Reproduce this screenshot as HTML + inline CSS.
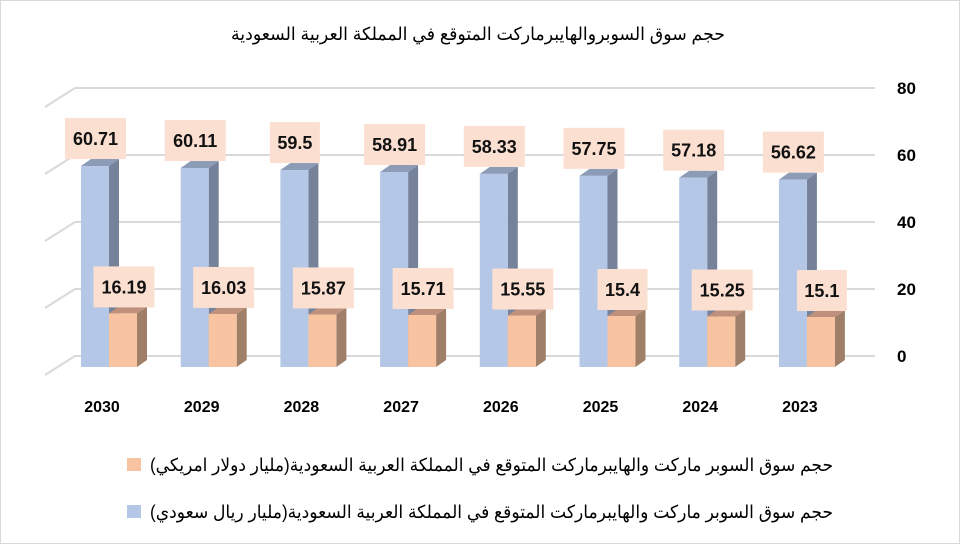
<!DOCTYPE html>
<html><head><meta charset="utf-8">
<style>
html,body{margin:0;padding:0;background:#fff;}
svg{display:block;}
text{font-family:"Liberation Sans","DejaVu Sans",sans-serif;}
</style></head>
<body>
<svg id="c" width="966" height="545" viewBox="0 0 966 545" xmlns="http://www.w3.org/2000/svg">
<rect x="0.5" y="0.5" width="959" height="543" fill="#fff" stroke="#d9d9d9"/>
<text x="478" y="40" font-size="18" text-anchor="middle" direction="rtl" font-family="DejaVu Sans, sans-serif" textLength="494" lengthAdjust="spacingAndGlyphs">حجم سوق السوبروالهايبرماركت  المتوقع في المملكة العربية السعودية</text>
<g id="grid" stroke="#d9d9d9" stroke-width="2" fill="none"></g>
<g id="bars"></g>
<g font-size="17" font-weight="bold" fill="#000">
<text x="897" y="94">80</text>
<text x="897" y="161">60</text>
<text x="897" y="228">40</text>
<text x="897" y="295">20</text>
<text x="897" y="362">0</text>
</g>
<rect x="127" y="458" width="14" height="13" fill="#f8c3a1"/>
<rect x="127" y="505" width="14" height="13" fill="#b4c7e7"/>
<text x="833" y="471" font-size="18" text-anchor="start" direction="rtl" font-family="DejaVu Sans, sans-serif" textLength="683" lengthAdjust="spacingAndGlyphs">حجم سوق السوبر ماركت والهايبرماركت المتوقع في المملكة العربية السعودية(مليار دولار امريكي)</text>
<text x="833" y="518" font-size="18" text-anchor="start" direction="rtl" font-family="DejaVu Sans, sans-serif" textLength="683" lengthAdjust="spacingAndGlyphs">حجم سوق السوبر ماركت والهايبرماركت المتوقع في المملكة العربية السعودية(مليار ريال سعودي)</text>
</svg>
<script>
var NS="http://www.w3.org/2000/svg";
function el(p,t,a,txt){var e=document.createElementNS(NS,t);for(var k in a)e.setAttribute(k,a[k]);if(txt!=null)e.textContent=txt;p.appendChild(e);return e;}
var grid=document.getElementById('grid');
[88,155,222,289,356].forEach(function(y){
  el(grid,'path',{d:'M45 '+(y+19)+' L75 '+y+' L875 '+y});
});
var bars=document.getElementById('bars');
var years=[2030,2029,2028,2027,2026,2025,2024,2023];
var blue=[60.71,60.11,59.5,58.91,58.33,57.75,57.18,56.62];
var ora=[16.19,16.03,15.87,15.71,15.55,15.4,15.25,15.1];
var base=367,k=3.31,W=28,D=10,H=7;
function bar(x,top,front,side,topc){
  el(bars,'polygon',{points:(x+W)+','+base+' '+(x+W+D)+','+(base-H)+' '+(x+W+D)+','+(top-H)+' '+(x+W)+','+top,fill:side});
  el(bars,'polygon',{points:x+','+top+' '+(x+D)+','+(top-H)+' '+(x+W+D)+','+(top-H)+' '+(x+W)+','+top,fill:topc});
  el(bars,'rect',{x:x,y:top,width:W,height:base-top,fill:front});
}
function label(cx,bottom,s){
  var w=s.length>=5?61:50;
  el(bars,'rect',{x:cx-w/2,y:bottom-41,width:w,height:41,fill:'#fbe0d2'});
  el(bars,'text',{x:cx,y:bottom-14,'font-size':18,'font-weight':'bold','text-anchor':'middle',fill:'#111'},s);
}
for(var i=0;i<8;i++){
  var bx=81+i*99.7;
  var bt=base-blue[i]*k, ot=base-ora[i]*k;
  bar(bx,bt,'#b4c7e7','#75829a','#8c9bb6');
  bar(bx+W,ot,'#f8c3a1','#a07f69','#bf907b');
  label(bx+14.5,bt-7,String(blue[i]));
  label(bx+43,ot-6,String(ora[i]));
  el(bars,'text',{x:bx+21,y:412,'font-size':16,'font-weight':'bold','text-anchor':'middle',fill:'#000'},String(years[i]));
}
</script>
</body></html>
